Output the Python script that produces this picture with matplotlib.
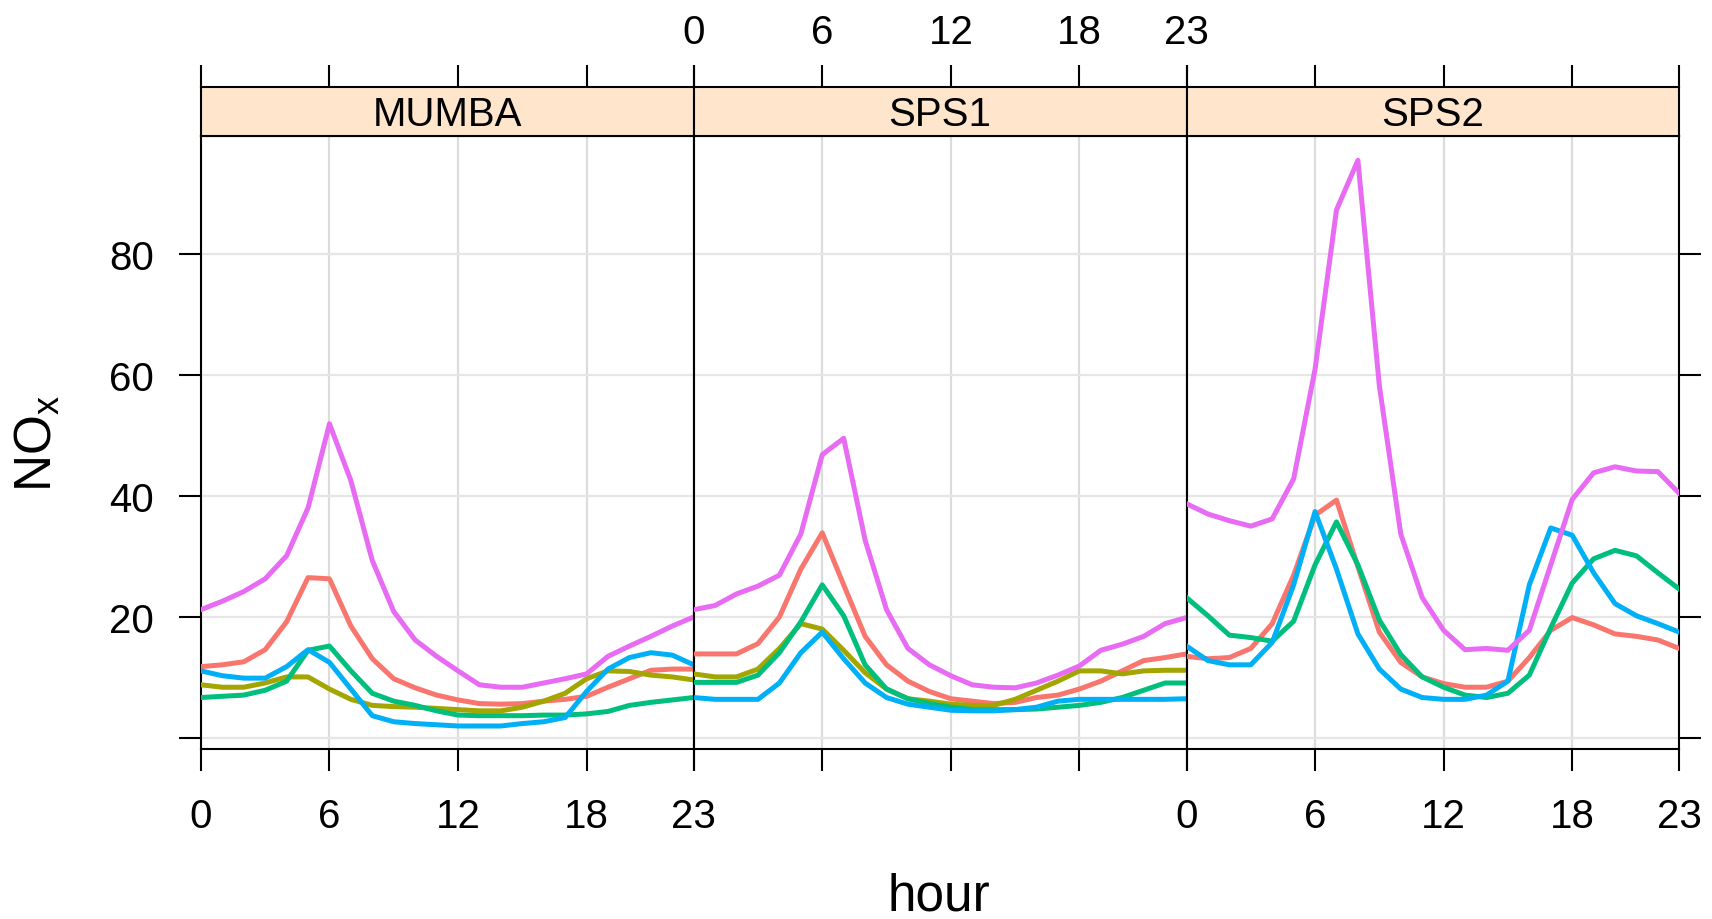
import matplotlib
import matplotlib.pyplot as plt

matplotlib.use("Agg")

plt.rcParams["font.family"] = ["Liberation Sans", "DejaVu Sans"]
plt.rcParams["mathtext.fontset"] = "custom"
plt.rcParams["mathtext.rm"] = "Liberation Sans"
plt.rcParams["mathtext.it"] = "Liberation Sans"

hours = list(range(24))
sites = ["MUMBA", "SPS1", "SPS2"]
colors = ["#F8766D", "#A3A500", "#00BF7D", "#00B0F6", "#E76BF3"]
x_ticks = [0, 6, 12, 18, 23]
y_ticks = [0, 20, 40, 60, 80]
y_tick_labels = ["", "20", "40", "60", "80"]

mumba_red = [11.8, 12.1, 12.6, 14.6, 19.2, 26.5, 26.3, 18.5, 13.1, 9.8, 8.3, 7.1,
             6.3, 5.7, 5.6, 5.7, 6.1, 6.4, 6.9, 8.4, 9.8, 11.2, 11.4, 11.4]
mumba_olive = [8.8, 8.4, 8.4, 9.1, 10.1, 10.1, 8.1, 6.4, 5.4, 5.2, 5.1, 4.9,
               4.7, 4.5, 4.5, 5.1, 6.1, 7.4, 9.8, 11.1, 11.0, 10.4, 10.1, 9.6]
mumba_green = [6.7, 6.9, 7.1, 7.9, 9.4, 14.5, 15.2, 11.1, 7.4, 6.1, 5.4, 4.5,
               3.8, 3.7, 3.7, 3.7, 3.8, 3.8, 4.0, 4.4, 5.4, 5.9, 6.3, 6.7]
mumba_blue = [11.1, 10.3, 9.9, 9.9, 11.8, 14.6, 12.5, 8.1, 3.7, 2.7, 2.4, 2.2,
              2.0, 2.0, 2.0, 2.4, 2.7, 3.4, 7.7, 11.4, 13.3, 14.1, 13.7, 12.1]
mumba_magenta = [21.2, 22.6, 24.2, 26.3, 30.1, 38.0, 51.9, 42.5, 29.3, 20.9, 16.2, 13.5,
                 11.1, 8.8, 8.4, 8.4, 9.1, 9.8, 10.6, 13.5, 15.2, 16.8, 18.5, 20.0]

sps1_red = [13.9, 13.9, 13.9, 15.6, 20.0, 27.9, 33.9, 25.3, 16.8, 12.1, 9.4, 7.7,
            6.5, 6.1, 5.7, 5.9, 6.7, 7.1, 8.1, 9.4, 11.1, 12.8, 13.3, 13.9]
sps1_olive = [10.6, 10.1, 10.1, 11.4, 14.8, 18.9, 18.0, 14.5, 10.8, 8.1, 6.5, 6.1,
              5.6, 5.4, 5.4, 6.4, 7.9, 9.4, 11.1, 11.1, 10.6, 11.1, 11.2, 11.2]
sps1_green = [9.2, 9.2, 9.2, 10.4, 14.1, 19.2, 25.3, 20.2, 12.1, 8.1, 6.5, 5.7,
              5.1, 4.7, 4.7, 4.7, 4.8, 5.1, 5.4, 5.9, 6.7, 7.9, 9.1, 9.1]
sps1_blue = [6.7, 6.4, 6.4, 6.4, 9.1, 14.1, 17.5, 13.1, 9.1, 6.7, 5.6, 5.1,
             4.6, 4.5, 4.5, 4.7, 5.1, 6.1, 6.4, 6.4, 6.4, 6.4, 6.4, 6.5]
sps1_magenta = [21.2, 21.9, 23.8, 25.1, 26.9, 33.7, 46.8, 49.5, 32.7, 21.2, 14.8, 12.1,
                10.3, 8.8, 8.4, 8.3, 9.1, 10.4, 11.9, 14.5, 15.5, 16.8, 18.9, 19.9]

sps2_red = [13.5, 13.1, 13.3, 14.8, 18.9, 26.9, 36.8, 39.3, 28.3, 17.5, 12.5, 10.1,
            9.0, 8.4, 8.4, 9.4, 13.3, 17.8, 19.9, 18.7, 17.2, 16.8, 16.2, 14.8]
sps2_green = [23.2, 20.2, 17.0, 16.6, 16.0, 19.3, 28.6, 35.7, 28.6, 19.5, 13.8, 10.1,
              8.4, 7.1, 6.7, 7.4, 10.4, 18.2, 25.6, 29.6, 31.0, 30.1, 27.3, 24.6]
sps2_blue = [15.2, 12.8, 12.1, 12.1, 15.8, 25.3, 37.4, 27.9, 17.2, 11.4, 8.1, 6.7,
             6.4, 6.4, 7.1, 9.4, 25.3, 34.7, 33.5, 27.3, 22.2, 20.2, 18.9, 17.5]
sps2_magenta = [38.7, 37.0, 35.9, 35.0, 36.2, 42.8, 60.9, 87.2, 95.4, 58.2, 33.7, 23.2,
                17.8, 14.6, 14.8, 14.5, 17.8, 28.6, 39.4, 43.8, 44.8, 44.1, 44.0, 40.4]

site_series = [
    [mumba_red, mumba_olive, mumba_green, mumba_blue, mumba_magenta],
    [sps1_red, sps1_olive, sps1_green, sps1_blue, sps1_magenta],
    [sps2_red, None, sps2_green, sps2_blue, sps2_magenta],
]

W, H = 1712, 920
fig = plt.figure(figsize=(W / 100, H / 100), dpi=100)

left, panel_w = 200.9, 492.8
top, bottom, strip_top = 136.5, 750.0, 88.4
tick_kw = dict(direction="out", length=15.5, width=1.5, labelsize=29)

for i, site in enumerate(sites):
    x0 = (left + i * panel_w) / W
    ax = fig.add_axes([x0, 1 - bottom / H, panel_w / W, (bottom - top) / H])
    strip = fig.add_axes([x0, 1 - top / H, panel_w / W, (top - strip_top) / H])

    for series, color in zip(site_series[i], colors):
        if series is None:
            continue
        ax.plot(hours, series, color=color, lw=3.6, zorder=3)

    ax.set_xlim(0, 23)
    ax.set_ylim(-1.8, 99.5)
    ax.set_xticks(x_ticks)
    ax.set_yticks(y_ticks)
    ax.set_yticklabels(y_tick_labels)
    ax.grid(axis="y", color="#e6e6e6", lw=1.6, zorder=0)
    ax.grid(axis="x", color="#dcdcdc", lw=1.6, zorder=0)
    ax.set_axisbelow(True)
    for spine in ax.spines.values():
        spine.set_linewidth(1.5)

    ax.tick_params(axis="x", top=False, bottom=True, labelbottom=(i != 1), pad=19, **tick_kw)
    ax.tick_params(axis="y", left=(i == 0), right=(i == 2), labelleft=(i == 0),
                   labelright=False, pad=18, **tick_kw)

    strip.set_facecolor("#FFE5CC")
    strip.set_xlim(0, 23)
    strip.set_ylim(0, 1)
    strip.set_xticks(x_ticks)
    strip.set_yticks([])
    strip.tick_params(axis="x", top=True, bottom=False, labeltop=(i == 1),
                      labelbottom=False, pad=11, **tick_kw)
    for spine in strip.spines.values():
        spine.set_linewidth(1.5)
    strip.text(0.5, 0.45, site, transform=strip.transAxes, ha="center", va="center",
               fontsize=29)

fig.text(939 / W, 1 - 897 / H, "hour", ha="center", va="center", fontsize=37)
fig.text(38 / W, 1 - 443 / H, r"NO$_\mathregular{x}$", ha="center", va="center",
         rotation=90, fontsize=37)

fig.savefig("out.png", dpi=100)
